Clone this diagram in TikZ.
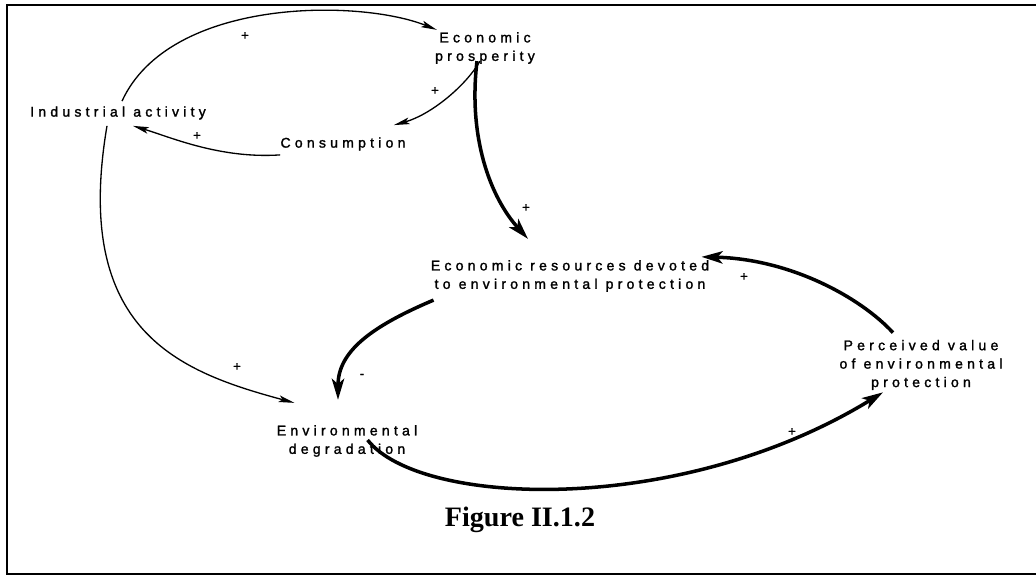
\documentclass[tikz,border=0pt]{standalone}
\usepackage{fontspec}
\newfontfamily\cldfont[LetterSpace=30,FakeBold=1.6]{Liberation Sans}
\newfontfamily\capfont{Liberation Serif}
\usetikzlibrary{arrows.meta,calc}

\begin{document}
\begin{tikzpicture}[x=0.02cm,y=0.02cm,
  var/.style={font=\cldfont\fontsize{8}{10.5}\selectfont,align=center,inner sep=0pt},
  sgn/.style={font=\cldfont\fontsize{7.5}{8}\selectfont,inner sep=0pt},
  thinlink/.style={line width=0.75pt,-{Stealth[length=9pt,width=3.8pt,inset=2pt]}},
  thicklink/.style={line width=2pt,-{Stealth[length=12pt,width=7pt,inset=3pt]}}]
\useasboundingbox (0,0) rectangle (1036,577);
%Rahmen, rechts abgeschnitten
\draw[line width=1.2pt] (1036,572) -- (7,572) -- (7,3) -- (1036,3);
%Variablen
\node[var] (econ) at (485,529) {Economic\\prosperity};
\node[var] (ind) at (118,464) {Industrial activity};
\node[var] (cons) at (343,433) {Consumption};
\node[var] (res) at (570,301) {Economic resources devoted\\to environmental protection};
\node[var] (perc) at (921,212) {Perceived value\\of environmental\\protection};
\node[var] (deg) at (347,136) {Environmental\\degradation};
\node[font=\capfont\bfseries\fontsize{16}{18}\selectfont] (cap) at (520,57) {Figure II.1.2};
%obere Schleife
\draw[thinlink] ($(ind.north)+(4,5)$) .. controls (170,580) and (360,578) .. ($(econ.north west)+(2,2)$);
\draw[thinlink] ($(econ.south)+(-5,3)$) .. controls (465,490) and (430,462) .. ($(cons.north east)+(-12,12)$);
\draw[thinlink] ($(cons.south west)+(0,-4)$) .. controls (220,418) and (170,440) .. ($(ind.south)+(15,-6)$);
\draw[thinlink] ($(ind.south)+(-11,-6)$) .. controls (72,245) and (180,205) .. ($(deg.north west)+(18,22)$);
%untere Schleife
\draw[thicklink] ($(econ.south)+(-8,3)$) .. controls (468,440) and (490,380) .. ($(res.north)+(-42,21)$);
\draw[thicklink] ($(res.south west)+(3,-8)$) .. controls (370,250) and (338,225) .. ($(deg.north)+(-9,25)$);
\draw[thicklink] ($(deg.east)+(-50,1)$) .. controls (420,70) and (680,60) .. ($(perc.south)+(-38,-2)$);
\draw[thicklink] ($(perc.north)+(-28,7)$) .. controls (860,280) and (790,318) .. ($(res.north east)+(-8,3)$);
%Vorzeichen
\node[sgn] (s1) at (245,541) {+};
\node[sgn] (s2) at (435,486) {+};
\node[sgn] (s3) at (197,441) {+};
\node[sgn] (s4) at (237,210) {+};
\node[sgn] (s5) at (526,369) {+};
\node[sgn] (s6) at (362,201) {-};
\node[sgn] (s7) at (792,145) {+};
\node[sgn] (s8) at (744,300) {+};
\end{tikzpicture}
\end{document}
